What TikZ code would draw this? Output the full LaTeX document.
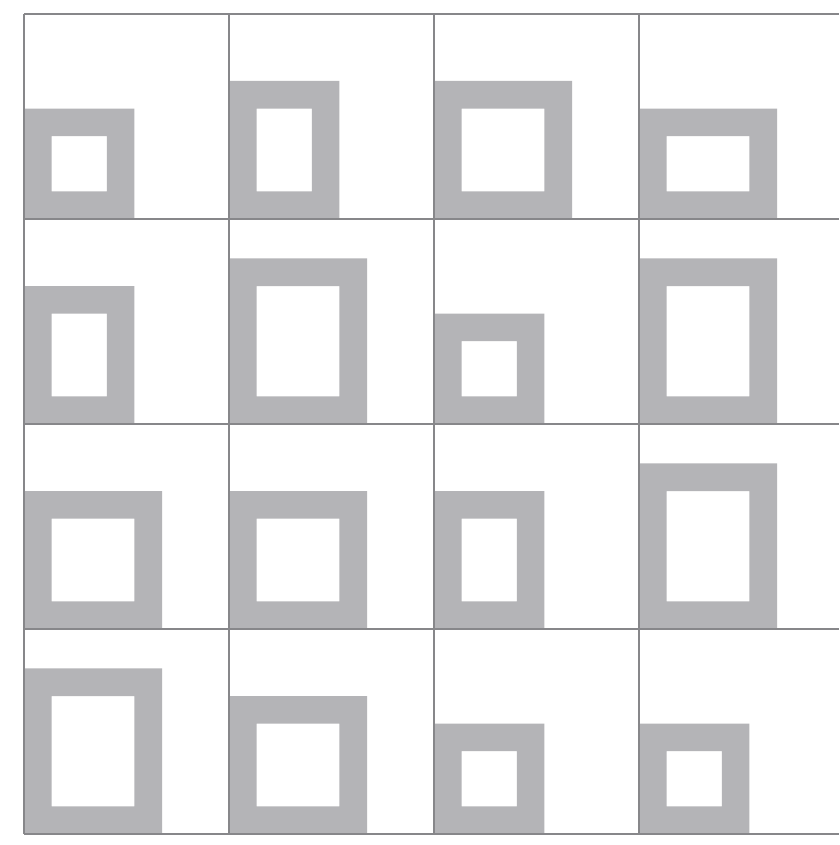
\documentclass[tikz,border=0pt]{standalone}
\usepackage{tikz}
\definecolor{fg}{RGB}{180,180,183}
\definecolor{gridc}{RGB}{135,135,138}
\newcommand{\gframe}[4]{%
  \fill[fg,even odd rule] (#1,#2) rectangle ++({#3*27.6},{-#4*27.6})
    ({#1+27.6},{#2-27.6}) rectangle ++({(#3-2)*27.6},{-(#4-2)*27.6});}
\begin{document}
\begin{tikzpicture}[x=1pt,y=-1pt]
\useasboundingbox (0,0) rectangle (839,845);
\fill[white] (0,0) rectangle (839,845);
% row 0
\gframe{24}{219}{4}{4}
\gframe{229}{219}{4}{5}
\gframe{434}{219}{5}{5}
\gframe{639}{219}{5}{4}
% row 1
\gframe{24}{424}{4}{5}
\gframe{229}{424}{5}{6}
\gframe{434}{424}{4}{4}
\gframe{639}{424}{5}{6}
% row 2
\gframe{24}{629}{5}{5}
\gframe{229}{629}{5}{5}
\gframe{434}{629}{4}{5}
\gframe{639}{629}{5}{6}
% row 3
\gframe{24}{834}{5}{6}
\gframe{229}{834}{5}{5}
\gframe{434}{834}{4}{4}
\gframe{639}{834}{4}{4}
% grid
\foreach \y in {14,219,424,629,834} \draw[gridc,line width=1.1pt] (24,\y) -- (839,\y);
\foreach \x in {24,229,434,639} \draw[gridc,line width=1.1pt] (\x,14) -- (\x,834);
\end{tikzpicture}
\end{document}
